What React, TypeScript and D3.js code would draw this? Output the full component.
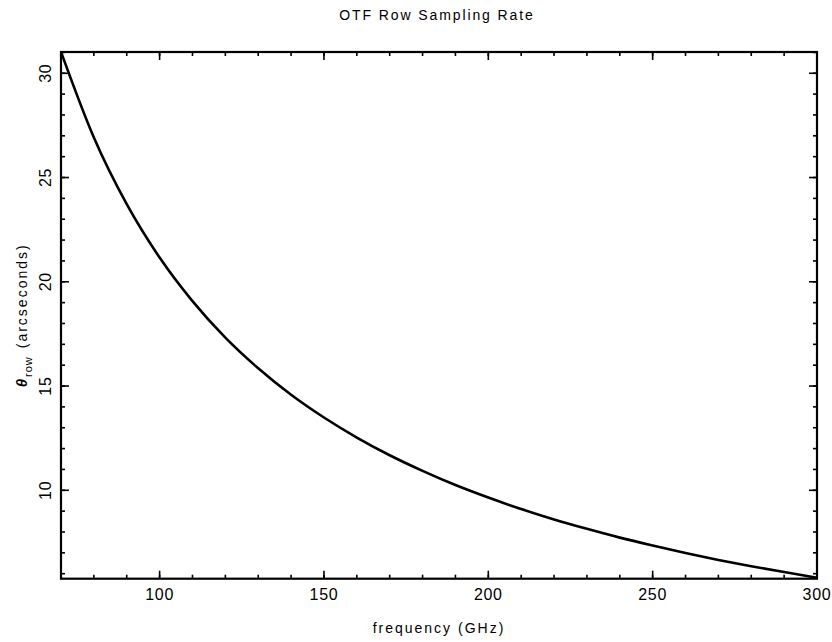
import React from 'react';
import * as d3 from 'd3';

// Values (GHz -> arcseconds)
const frequencyGHz = [70, 80, 90, 100, 110, 120, 130, 140, 150, 160, 170, 180, 190, 200, 210, 220, 230, 240, 250, 260, 270, 280, 290, 300];
const thetaRow = [31.03, 26.92, 23.72, 21.16, 19.07, 17.32, 15.85, 14.58, 13.49, 12.53, 11.68, 10.93, 10.25, 9.65, 9.1, 8.6, 8.15, 7.73, 7.35, 6.99, 6.66, 6.36, 6.08, 5.81];

const xMajorTicks = [100, 150, 200, 250, 300];
const yMajorTicks = [10, 15, 20, 25, 30];
const xMinorTicks = d3.range(70, 301, 10);
const yMinorTicks = d3.range(6, 32, 1);

const titleText = 'OTF Row Sampling Rate';
const xLabelText = 'frequency (GHz)';
const yLabelSymbol = 'θ';
const yLabelSub = 'row';
const yLabelRest = '(arcseconds)';

export default function App() {
  const W = 832;
  const H = 642;
  const left = 61, right = 817, top = 52, bottom = 578.7;
  const x = d3.scaleLinear().domain([70, 300]).range([left, right]);
  const y = d3.scaleLinear().domain([5.76, 31.02]).range([bottom, top]);

  const pts: [number, number][] = frequencyGHz.map((f, i) => [f, thetaRow[i]]);
  const line = d3
    .line<[number, number]>()
    .x((d) => x(d[0]))
    .y((d) => y(d[1]))
    .curve(d3.curveMonotoneX);

  const font = '"Liberation Sans", Arial, Helvetica, sans-serif';
  const majLen = 8;
  const minLen = 4;
  const tickStroke = 1.6;

  return (
    <svg
      width={W}
      height={H}
      viewBox={`0 0 ${W} ${H}`}
      style={{ position: 'absolute', left: 0, top: 0, background: '#fff' }}
    >
      <rect x={0} y={0} width={W} height={H} fill="#fff" />
      {/* title */}
      <text
        x={(left + right) / 2 - 2}
        y={19.5}
        textAnchor="middle"
        fontFamily={font}
        fontSize={14}
        letterSpacing={1.9}
        fill="#000"
      >
        {titleText}
      </text>

      {/* minor ticks */}
      <g stroke="#000" strokeWidth={tickStroke}>
        {xMinorTicks.map((t) => (
          <g key={'xm' + t}>
            <line x1={x(t)} x2={x(t)} y1={bottom} y2={bottom - minLen} />
            <line x1={x(t)} x2={x(t)} y1={top} y2={top + minLen} />
          </g>
        ))}
        {yMinorTicks.map((t) => (
          <g key={'ym' + t}>
            <line x1={left} x2={left + minLen} y1={y(t)} y2={y(t)} />
            <line x1={right} x2={right - minLen} y1={y(t)} y2={y(t)} />
          </g>
        ))}
        {xMajorTicks.map((t) => (
          <g key={'xM' + t}>
            <line x1={x(t)} x2={x(t)} y1={bottom} y2={bottom - majLen} />
            <line x1={x(t)} x2={x(t)} y1={top} y2={top + majLen} />
          </g>
        ))}
        {yMajorTicks.map((t) => (
          <g key={'yM' + t}>
            <line x1={left} x2={left + majLen} y1={y(t)} y2={y(t)} />
            <line x1={right} x2={right - majLen} y1={y(t)} y2={y(t)} />
          </g>
        ))}
      </g>

      {/* frame */}
      <rect
        x={left}
        y={top}
        width={right - left}
        height={bottom - top}
        fill="none"
        stroke="#000"
        strokeWidth={2.2}
      />

      {/* curve */}
      <path d={line(pts) || ''} fill="none" stroke="#000" strokeWidth={2.6} strokeLinejoin="round" />

      {/* x tick labels */}
      {xMajorTicks.map((t) => (
        <text
          key={'xl' + t}
          x={x(t)}
          y={600}
          textAnchor="middle"
          fontFamily={font}
          fontSize={16}
          letterSpacing={0.7}
          fill="#000"
        >
          {t}
        </text>
      ))}

      {/* y tick labels */}
      {yMajorTicks.map((t) => (
        <text
          key={'yl' + t}
          transform={`translate(50.5, ${y(t)}) rotate(-90)`}
          textAnchor="middle"
          fontFamily={font}
          fontSize={16}
          letterSpacing={0.7}
          fill="#000"
        >
          {t}
        </text>
      ))}

      {/* x label */}
      <text
        x={(left + right) / 2}
        y={633}
        textAnchor="middle"
        fontFamily={font}
        fontSize={14}
        letterSpacing={2}
        fill="#000"
      >
        {xLabelText}
      </text>

      {/* y label */}
      <text
        transform={`translate(27, ${(top + bottom) / 2}) rotate(-90)`}
        textAnchor="middle"
        fontFamily={font}
        fontSize={14}
        letterSpacing={2}
        fill="#000"
      >
        <tspan fontStyle="italic" fontWeight="bold" fontSize={15}>{yLabelSymbol}</tspan>
        <tspan fontSize={11} dy={5} letterSpacing={1}>{yLabelSub}</tspan>
        <tspan dy={-5} dx={8}>{yLabelRest}</tspan>
      </text>
    </svg>
  );
}
